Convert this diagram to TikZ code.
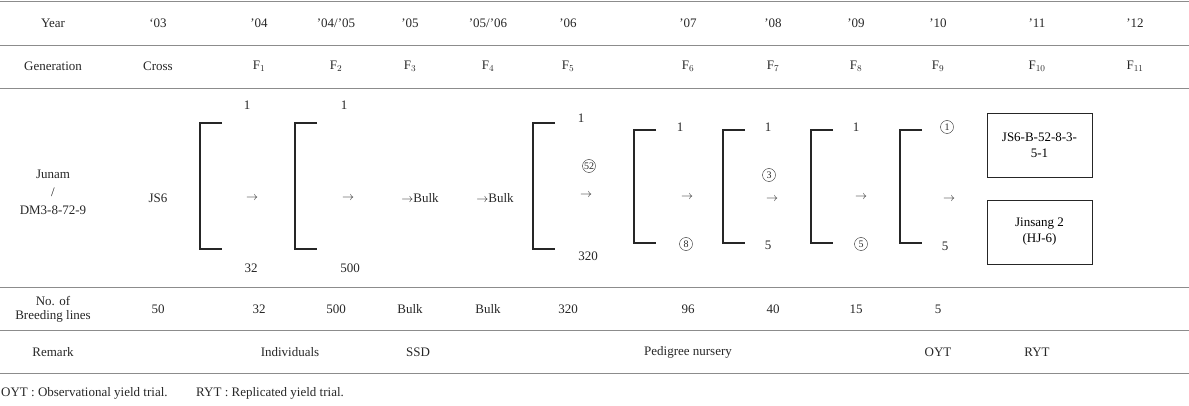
\documentclass[tikz,border=0pt]{standalone}
\usepackage{fontspec}
\setmainfont{Liberation Serif}
\begin{document}
\begin{tikzpicture}[x=1pt,y=-1pt,
  t/.style={inner sep=0pt,font=\fontsize{13}{14}\selectfont,text=black!85},
  hl/.style={draw=black!45,line width=0.8pt},
  br/.style={draw=black!85,line width=2pt},
  bx/.style={draw=black!85,line width=0.9pt,minimum width=105pt,minimum height=64pt,align=center,inner sep=0pt,font=\fontsize{13}{16}\selectfont},
  ci/.style={draw=black!85,circle,inner sep=0pt,minimum size=13pt,text=black!85,font=\fontsize{10}{10}\selectfont}]
\useasboundingbox (0,0) rectangle (1189,406);
\foreach \y in {1,45,88,287,330,373} \draw[hl] (0,\y) -- (1189,\y);
% header
\foreach \x/\s [count=\i] in {53/Year,158/`03,259/'04,336/{'04/'05},410/'05,488/{'05/'06},568/'06,688/'07,773/'08,856/'09,938/'10,1037/'11,1135/'12}
  \node[t] (y\i) at (\x,23) {\s};
\foreach \x/\s [count=\i] in {53/Generation,158/Cross,259/F$_1$,336/F$_2$,410/F$_3$,488/F$_4$,568/F$_5$,688/F$_6$,773/F$_7$,856/F$_8$,938/F$_9$,1037/F$_{10}$,1135/F$_{11}$}
  \node[t] (g\i) at (\x,66) {\s};
% left
\node[t,align=center] (cross) at (53,192) {Junam\\[4pt]/\\[4pt]DM3-8-72-9};
\node[t] (js6) at (158,198) {JS6};
% brackets
\foreach \a/\t/\b [count=\i] in {200/123/249,295/123/249,533/123/249,634/130/243,723/130/243,811/130/243,900/130/243}
  \draw[br] (\a+22,\t) -- (\a,\t) -- (\a,\b) -- (\a+22,\b);
\node[t] (a1) at (247,105) {1}; \node[t] (r1) at (252,198) {$\rightarrow$}; \node[t] (b1) at (251,268) {32};
\node[t] (a2) at (344,105) {1}; \node[t] (r2) at (348,198) {$\rightarrow$}; \node[t] (b2) at (350,268) {500};
\node[t] (bk1) at (420,198) {$\rightarrow$Bulk}; \node[t] (bk2) at (495,198) {$\rightarrow$Bulk};
\node[t] (a3) at (581,118) {1};
\node[ci] (c52) at (589,166) {52};
\node[t] (r3) at (586,195) {$\rightarrow$}; \node[t] (b3) at (588,256) {320};
\node[t] (a4) at (680,127) {1}; \node[t] (r4) at (687,197) {$\rightarrow$}; \node[ci] (b4) at (686,244) {8};
\node[t] (a5) at (768,127) {1}; \node[ci] (c3) at (769,175) {3}; \node[t] (r5) at (772,199) {$\rightarrow$}; \node[t] (b5) at (768,245) {5};
\node[t] (a6) at (856,127) {1}; \node[t] (r6) at (861,197) {$\rightarrow$}; \node[ci] (b6) at (861,244) {5};
\node[ci] (a7) at (947,127) {1}; \node[t] (r7) at (949,199) {$\rightarrow$}; \node[t] (b7) at (945,246) {5};
\node[bx] (box1) at (1039.5,145) {JS6-B-52-8-3-\\5-1};
\node[bx] (box2) at (1039.5,232) {Jinsang 2\\(HJ-6)};
% breeding lines
\node[t,align=center] (nb) at (53,309) {No. of\\Breeding lines};
\foreach \x/\s in {158/50,259/32,336/500,410/Bulk,488/Bulk,568/320,688/96,773/40,856/15,938/5}
  \node[t] at (\x,309) {\s};
% remark
\foreach \x/\s in {53/Remark,290/Individuals,418/SSD,688/Pedigree nursery,938/OYT,1037/RYT}
  \node[t] at (\x,352) {\s};
\node[t,anchor=west] (fn) at (1,393) {OYT : Observational yield trial.\hspace{2.2em}RYT : Replicated yield trial.};
\end{tikzpicture}
\end{document}
